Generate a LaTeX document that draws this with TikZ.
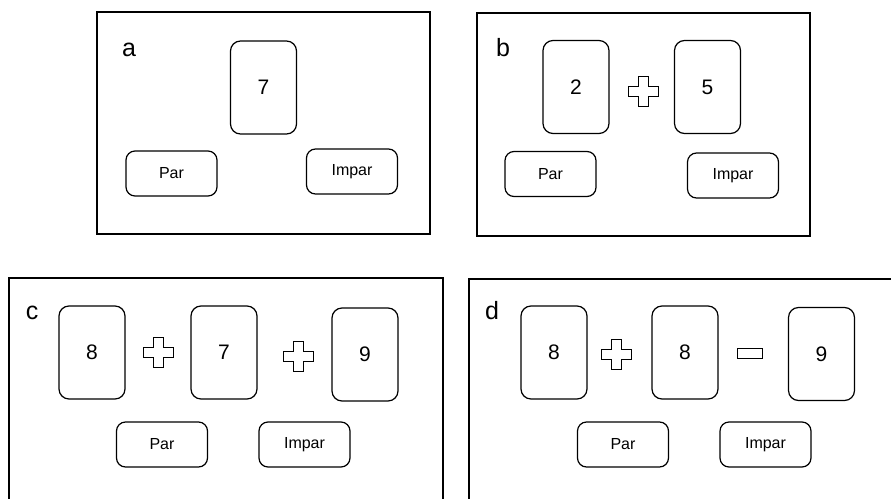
\documentclass[tikz,border=0pt]{standalone}
\usepackage{fontspec}
\setmainfont{Liberation Sans}

\tikzset{
  frame/.style={line width=1.6pt},
  card/.style={draw, line width=1.2pt, rounded corners=10pt, minimum width=66pt, minimum height=93pt, font=\fontsize{21}{21}\selectfont},
  choice/.style={draw, line width=1.2pt, rounded corners=9pt, minimum width=91pt, minimum height=45pt, font=\fontsize{16}{16}\selectfont},
  tag/.style={inner sep=0pt, font=\fontsize{25}{25}\selectfont},
  pics/plussign/.style={code={
    \draw[line width=0.9pt] (-5,-15) -- (5,-15) -- (5,-5) -- (15,-5) -- (15,5) -- (5,5) -- (5,15)
      -- (-5,15) -- (-5,5) -- (-15,5) -- (-15,-5) -- (-5,-5) -- cycle;}},
  pics/minussign/.style={code={
    \draw[line width=0.9pt] (-12.5,-5) rectangle (12.5,5);}}
}

\begin{document}
\begin{tikzpicture}[x=1pt, y=-1pt]
  \useasboundingbox (0,0) rectangle (891,498);
  \clip (0,0) rectangle (891,498);

  \draw[frame] (97,12) rectangle (430,234);
  \node[tag] (a-tag) at (129,50) {a};
  \node[card] (a-card) at (263.5,87.5) {7};
  \node[choice] (a-par) at (171.5,173.5) {Par};
  \node[choice] (a-impar) at (352,171.5) {Impar};

  \draw[frame] (477,13) rectangle (810,236);
  \node[tag] (b-tag) at (503,48) {b};
  \node[card] (b-card1) at (576,87) {2};
  \pic at (643,91) {plussign};
  \node[card] (b-card2) at (707.5,87) {5};
  \node[choice] (b-par) at (550.5,174) {Par};
  \node[choice] (b-impar) at (733,175.5) {Impar};

  \draw[frame] (9,510) -- (9,278) -- (443,278) -- (443,510);
  \node[tag] (c-tag) at (32,313) {c};
  \node[card] (c-card1) at (92,352.5) {8};
  \pic at (158,352) {plussign};
  \node[card] (c-card2) at (224,352.5) {7};
  \pic at (298,356) {plussign};
  \node[card] (c-card3) at (365,354.5) {9};
  \node[choice] (c-par) at (162,444.5) {Par};
  \node[choice] (c-impar) at (304.5,444.5) {Impar};

  \draw[frame] (469,510) -- (469,279) -- (900,279);
  \node[tag] (d-tag) at (492,311) {d};
  \node[card] (d-card1) at (554,352.5) {8};
  \pic at (616,354) {plussign};
  \node[card] (d-card2) at (685,352.5) {8};
  \pic at (749.5,353) {minussign};
  \node[card] (d-card3) at (821.5,354) {9};
  \node[choice] (d-par) at (623,444.5) {Par};
  \node[choice] (d-impar) at (765.5,444.5) {Impar};
\end{tikzpicture}
\end{document}
